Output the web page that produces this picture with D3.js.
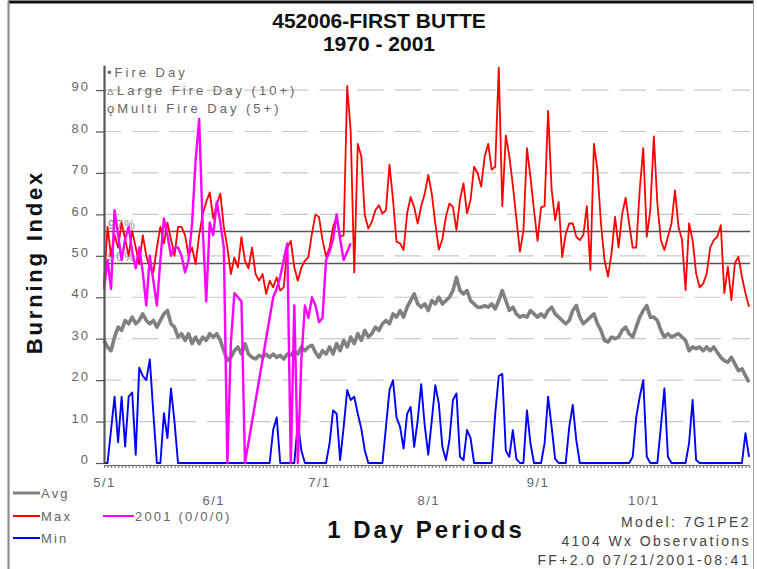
<!DOCTYPE html>
<html>
<head>
<meta charset="utf-8">
<script src="https://cdn.jsdelivr.net/npm/d3@7"></script>
<style>
  body { margin: 0; background: #fff; }
  svg { display: block; }
  text { font-family: "Liberation Sans", Arial, Helvetica, sans-serif; }
</style>
</head>
<body>
<svg id="chart" width="757" height="569"></svg>
<script>
// ---------------- DATA ----------------
const titleLines = ["452006-FIRST BUTTE", "1970 - 2001"];
const startDay = "2001-05-01";

const avgValues = [
  29.6, 28, 27.1, 30.4, 32.8, 32, 34.4, 33.6, 35.2, 33.6,
  34.4, 36, 34.4, 33.6, 34.4, 32.8, 34.4, 36, 36.8, 33.6,
  32.8, 30.4, 31.2, 29.6, 31.2, 28.8, 30.4, 28.8, 30.4, 29.6,
  31.2, 30.4, 31.2, 29.6, 27.1, 24.7, 25.5, 27.1, 28, 26.3,
  28.8, 26.3, 25.5, 25.1, 26, 25.5, 26.3, 25.5, 26.3, 25.5,
  26, 25.1, 26.3, 26, 27.1, 26.3, 28, 27.1, 28, 28.4,
  26.7, 25.5, 27.1, 26.3, 28, 26.3, 28.8, 27.1, 29.6, 28,
  30.4, 28.8, 31.2, 29.6, 32, 30.4, 31.2, 32.8, 32, 33.6,
  34.4, 33.6, 36, 35.2, 36.8, 35.2, 37.6, 39.2, 40.8, 38.4,
  37.6, 38.4, 36.8, 39.2, 38.4, 40, 38.4, 39.2, 40, 41.6,
  44.8, 41.6, 40.8, 41.6, 39.2, 38.4, 37.6, 37.6, 38, 37.6,
  38.4, 37.2, 39.2, 41.6, 39.2, 36.8, 37.6, 36, 35.2, 35.6,
  35.2, 36.8, 36, 35.2, 36, 35.2, 36.8, 37.6, 36, 35.2,
  34.4, 33.6, 34.4, 36.8, 38, 35.2, 33.6, 34.4, 35.2, 36,
  33.6, 32, 29.6, 29.2, 30.4, 30, 30.4, 32, 32.8, 31.2,
  30.4, 32.8, 35.2, 36.8, 38, 35.2, 35.2, 34.4, 32, 30.4,
  31.2, 30.4, 30.8, 31.2, 30.4, 29.6, 27.1, 28, 27.6, 28,
  27.1, 28, 27.1, 28, 26.7, 25.5, 24.7, 24.3, 25.5, 23.9,
  22.3, 22.7, 21.1, 19.5
];

const maxValues = [
  43, 57, 50, 55, 52, 58, 54, 50, 56, 52,
  48, 55, 50, 47, 46, 52, 57, 53, 58, 54,
  50, 57, 57, 55, 50, 52, 48, 55, 60, 63,
  65.3, 59, 62.5, 65, 57, 52, 45.6, 49.6, 47.2, 54.5,
  48.8, 47, 52, 45.6, 44, 45.6, 40.8, 44, 42.4, 44.8,
  41.6, 42.4, 52, 53.6, 47.2, 44, 47.2, 48.8, 49.7, 55.4,
  60, 59.4, 53.8, 49.8, 52, 57, 59.4, 54.6, 55, 91,
  80, 46, 77, 74, 59.8, 56.6, 58.2, 61, 62.2, 60.2,
  61, 72, 63.5, 53.4, 53, 51.4, 60.2, 64.2, 61.8, 57.8,
  62, 65, 69.5, 65, 57.8, 51.5, 54, 59.4, 62.6, 61.8,
  56.2, 63.5, 67.5, 60.2, 63.5, 71.5, 70, 66.7, 73.9, 77,
  70.8, 71.5, 95.4, 62, 79, 74, 67, 59, 51, 56,
  76, 69, 61, 53.6, 61.7, 62, 85, 66, 58.6, 63,
  49.7, 55.3, 57.8, 57.8, 54.6, 53.8, 55, 62, 46.6, 77,
  70.7, 57.8, 49, 45, 50.6, 59.4, 52, 60, 64, 57.8,
  52, 52, 66, 76, 54.6, 61, 78.8, 62.6, 53.8, 51.4,
  54.6, 57.8, 65.8, 57, 53.8, 41.7, 57.8, 53.8, 45.7, 42.4,
  43.3, 45.7, 52, 53.8, 54.6, 57.4, 41, 47.4, 39.3, 48.2,
  49.8, 44.9, 41, 37.7
];

const minValues = [
  0, 0, 8, 16, 5, 16, 4, 16, 17, 2,
  23, 21, 20, 25, 12, 0, 0, 12, 6, 18,
  10, 0, 0, 0, 0, 0, 0, 0, 0, 0,
  0, 0, 0, 0, 0, 0, 0, 0, 0, 0,
  0, 0, 0, 0, 0, 0, 0, 0, 8, 11,
  0, 0, 0, 0, 0, 10, 3, 0, 0, 0,
  0, 0, 0, 0, 4.7, 12.7, 11.9, 0.7, 8.7, 17.6,
  15.2, 16, 11.9, 8.3, 3, 0, 0, 0, 0, 0,
  8.7, 17.6, 20, 11, 8.7, 3.5, 11.9, 13.5, 3.9, 10.3,
  19, 9, 2, 10.3, 18.8, 14.3, 3.9, 0.7, 5.5, 15.2,
  16.8, 1.5, 0.7, 8, 6, 0, 0, 0, 0, 0,
  0, 11.9, 21, 21.5, 3, 1.5, 7.9, 1, 0, 0,
  12.7, 4.7, 0, 0, 0, 4.7, 16, 8.7, 1, 0,
  0, 0, 8.7, 14, 5.5, 0, 0, 0, 0, 0,
  0, 0, 0, 0, 0, 0, 0, 0, 0, 0,
  1.5, 11, 16, 20, 1.5, 0, 0, 0, 8.8, 18,
  1.5, 0, 0, 0, 0, 0, 4.8, 15.2, 0.7, 0,
  0, 0, 0, 0, 0, 0, 0, 0, 0, 0,
  0, 0, 7.2, 1.5
];

// 2001 season (null = no observation that day)
const year2001Values = [
  42, 49, 42, 61, 55, 49, 54, 57, 51, 47,
  52, 46, 38, 50, 44, 38, 49, 59, 55, 50,
  52, 52, 50, 46, 49, 58, 73, 83, 57, 39,
  58, 55, 63, 58, 52, 0, 29, 41, 40, 39,
  0, null, null, null, null, null, null, null, 40, 42,
  45, 49, 53, 0, 38, 0, 25, 38, 35, 40,
  38, 34, 35, 49, 51, 54, 60, 54, 49, 51,
  53
];

const yTicks = [0, 10, 20, 30, 40, 50, 60, 70, 80, 90];
const gridValues = [10, 20, 30, 40, 50, 60, 70, 80, 90];
const monthTickLabels = ["5/1", "6/1", "7/1", "8/1", "9/1", "10/1"];
const percentileLabels = ["97%", "90%"];
const percentileValues = [55.9, 48.2];
const fireLegendLabels = ["\u2022Fire Day", "\u25B5Large Fire Day (10+)", "\u01EBMulti Fire Day (5+)"];
const seriesNames = ["Avg", "Max", "Min", "2001 (0/0/0)"];
const footerLines = ["Model: 7G1PE2", "4104 Wx Observations", "FF+2.0 07/21/2001-08:41"];
const xTitle = "1 Day Periods";
const yTitle = "Burning Index";

// ---------------- STYLE ----------------
const seriesColors = { "Avg": "#808080", "Max": "#ff0000", "Min": "#0000ff", "2001 (0/0/0)": "#ff00ff" };
const seriesWidths = { "Avg": 3.6, "Max": 1.8, "Min": 1.9, "2001 (0/0/0)": 2.4 };

// ---------------- CHART ----------------
const svg = d3.select("#chart");
svg.append("rect").attr("width", 757).attr("height", 569).attr("fill", "#fff");

// frame
svg.append("line").attr("x1", 8).attr("x2", 754).attr("y1", 2).attr("y2", 2)
  .attr("stroke", "#111").attr("stroke-width", 3);
svg.append("line").attr("x1", 8.5).attr("x2", 8.5).attr("y1", 1).attr("y2", 569)
  .attr("stroke", "#888").attr("stroke-width", 2);
svg.append("line").attr("x1", 753.5).attr("x2", 753.5).attr("y1", 1).attr("y2", 569)
  .attr("stroke", "#aaa").attr("stroke-width", 1);

const parse = d3.utcParse("%Y-%m-%d");
const start = parse(startDay);
const dates = avgValues.map((_, i) => d3.utcDay.offset(start, i));
const monthDates = monthTickLabels.map(s => {
  const [m, d] = s.split("/").map(Number);
  return new Date(Date.UTC(2001, m - 1, d));
});

const x = d3.scaleUtc().domain([dates[0], dates[dates.length - 1]]).range([104, 749]);
const y = d3.scaleLinear().domain([0, 96]).range([463, 65.2]);

// grid
svg.append("g").selectAll("line").data(gridValues).join("line")
  .attr("x1", 104).attr("x2", 750)
  .attr("y1", d => y(d)).attr("y2", d => y(d))
  .attr("stroke", "#c8c8c8").attr("stroke-width", 1.2)
  .attr("stroke-dasharray", "26.5,11").attr("stroke-dashoffset", 9.5);

// percentile lines
const pg = svg.append("g");
pg.selectAll("line").data(percentileValues).join("line")
  .attr("x1", 104).attr("x2", 750)
  .attr("y1", d => Math.round(y(d)) + 0.5).attr("y2", d => Math.round(y(d)) + 0.5)
  .attr("stroke", "#555").attr("stroke-width", 1.3);
pg.selectAll("text").data(percentileValues).join("text")
  .attr("x", 108).attr("y", d => y(d) - 2)
  .attr("font-size", 12).attr("fill", "#888").style("letter-spacing", "1.5px")
  .text((d, i) => percentileLabels[i]);

// series
const line = d3.line().x(d => x(d.date)).y(d => y(d.value));
function toPoints(values) {
  return values.map((v, i) => ({ date: dates[i], value: v })).filter(p => p.value !== null);
}
const seriesData = [
  { name: "Min", values: minValues },
  { name: "Avg", values: avgValues },
  { name: "Max", values: maxValues },
  { name: "2001 (0/0/0)", values: year2001Values }
];
svg.append("g").selectAll("path").data(seriesData).join("path")
  .attr("d", s => line(toPoints(s.values)))
  .attr("fill", "none")
  .attr("stroke", s => seriesColors[s.name])
  .attr("stroke-width", s => seriesWidths[s.name])
  .attr("stroke-linejoin", "round");

// y axis
const gy = svg.append("g").attr("transform", "translate(104,0)")
  .call(d3.axisLeft(y).tickValues(yTicks).tickSize(8).tickSizeOuter(0).tickPadding(6));
gy.select(".domain").attr("stroke", "#555").attr("stroke-width", 2.2);
gy.selectAll(".tick line").attr("stroke", "#555").attr("stroke-width", 1.2);
gy.selectAll(".tick text").attr("fill", "#666").attr("font-size", 13)
  .attr("font-family", "Liberation Sans, Arial, sans-serif")
  .attr("dy", "0.05em").style("letter-spacing", "2px");

// x axis: daily comb
const gx = svg.append("g").attr("transform", "translate(0,465)")
  .call(d3.axisBottom(x).tickValues(dates).tickSize(3).tickSizeOuter(0).tickFormat(""));
gx.select(".domain").attr("stroke", "#666").attr("stroke-width", 1.2);
gx.selectAll(".tick line").attr("stroke", "#777").attr("stroke-width", 1.2);

// x axis: month labels, staggered
const gm = svg.append("g").attr("transform", "translate(0,465)")
  .call(d3.axisBottom(x).tickValues(monthDates).tickSize(0)
    .tickFormat((d, i) => monthTickLabels[i]));
gm.select(".domain").remove();
gm.selectAll(".tick text")
  .attr("y", (d, i) => (i % 2 === 0 ? 22 : 40)).attr("dy", 0)
  .attr("fill", "#666").attr("font-size", 13)
  .attr("font-family", "Liberation Sans, Arial, sans-serif")
  .style("letter-spacing", "1.5px");

// titles
svg.append("text").attr("x", 379).attr("y", 28).attr("text-anchor", "middle")
  .attr("font-size", 21).attr("font-weight", "bold").attr("fill", "#111").text(titleLines[0]);
svg.append("text").attr("x", 379).attr("y", 51).attr("text-anchor", "middle")
  .attr("font-size", 21).attr("font-weight", "bold").attr("fill", "#111").text(titleLines[1]);

svg.append("text").attr("transform", "translate(42,262) rotate(-90)")
  .attr("text-anchor", "middle").attr("font-size", 22).attr("font-weight", "bold")
  .style("letter-spacing", "2.8px").attr("fill", "#111").text(yTitle);

svg.append("text").attr("x", 426).attr("y", 538).attr("text-anchor", "middle")
  .attr("font-size", 24).attr("font-weight", "bold")
  .style("letter-spacing", "3px").attr("fill", "#111").text(xTitle);

// fire legend (top-left inside plot)
svg.append("g").selectAll("text").data(fireLegendLabels).join("text")
  .attr("x", 107).attr("y", (d, i) => 77 + i * 18)
  .attr("font-size", 13).attr("fill", "#666").style("letter-spacing", "3px")
  .text(d => d);

// series legend (bottom-left)
const legendPos = {
  "Avg": [13, 493], "Max": [13, 516], "Min": [13, 538], "2001 (0/0/0)": [103, 516]
};
const lg = svg.append("g");
seriesNames.forEach(name => {
  const [lx, ly] = legendPos[name];
  const len = name === "2001 (0/0/0)" ? 31 : 27;
  lg.append("line").attr("x1", lx).attr("x2", lx + len).attr("y1", ly).attr("y2", ly)
    .attr("stroke", seriesColors[name]).attr("stroke-width", name === "Avg" ? 3 : 2);
  lg.append("text").attr("x", lx + len + 1).attr("y", ly + 5)
    .attr("font-size", 13).attr("fill", "#666").style("letter-spacing", "2.2px")
    .text(name);
});

// footer (bottom-right)
svg.append("g").selectAll("text").data(footerLines).join("text")
  .attr("x", 751).attr("y", (d, i) => 527 + i * 19)
  .attr("text-anchor", "end").attr("font-size", 14).attr("fill", "#444")
  .style("letter-spacing", "2.4px").text(d => d);
</script>
</body>
</html>
